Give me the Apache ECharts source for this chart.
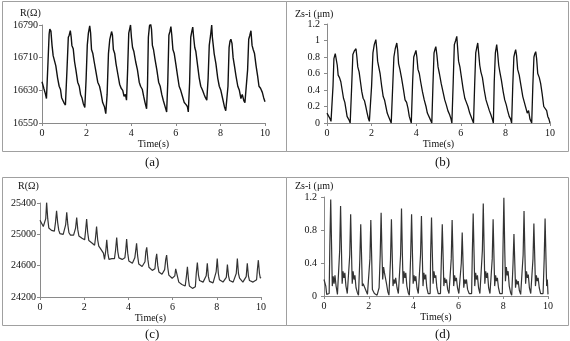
<!DOCTYPE html>
<html>
<head>
<meta charset="utf-8">
<script src="https://cdn.jsdelivr.net/npm/echarts@6/dist/echarts.min.js"></script>
<style>
  html, body { margin: 0; padding: 0; background: #fff; }
  #chart { width: 570px; height: 341px; }
</style>
</head>
<body>
<div id="chart"></div>
<script>
// tick values
const timeRange = [0, 10, 2]
const ticksA = [16550, 16630, 16710, 16790]
const ticksB = [0, 0.2, 0.4, 0.6, 0.8, 1, 1.2]
const ticksC = [24200, 24600, 25000, 25400]
const ticksD = [0, 0.4, 0.8, 1.2]

const panelLabels = ['(a)', '(b)', '(c)', '(d)']
const yNames = ['R(Ω)', 'Zs-i (μm)', 'R(Ω)', 'Zs-i (μm)']

// (a) resistance, slow pulse
const seriesA = [
  [0, 16651], [0.08, 16635], [0.15, 16622], [0.2, 16610], [0.27, 16700], [0.32, 16768], [0.35, 16780], [0.4, 16775], [0.45, 16740], [0.5, 16715], [0.55, 16712], [0.62, 16690], [0.7, 16660], [0.77, 16640], [0.83, 16632], [0.88, 16612], [0.93, 16615], [0.98, 16600], [1.05, 16594],
  [1.12, 16680], [1.18, 16760], [1.22, 16765], [1.27, 16776], [1.31, 16760], [1.34, 16740], [1.4, 16732], [1.46, 16700], [1.52, 16680], [1.6, 16650], [1.67, 16640], [1.73, 16620], [1.79, 16612], [1.85, 16598], [1.92, 16588],
  [1.98, 16660], [2.03, 16740], [2.08, 16770], [2.14, 16788], [2.18, 16770], [2.22, 16730], [2.28, 16720], [2.34, 16700], [2.42, 16675], [2.5, 16650], [2.58, 16640], [2.64, 16625], [2.72, 16600], [2.8, 16590], [2.86, 16573],
  [2.92, 16620], [2.98, 16720], [3.04, 16755], [3.12, 16774], [3.16, 16765], [3.2, 16730], [3.26, 16720], [3.32, 16695], [3.4, 16670], [3.48, 16645], [3.55, 16635], [3.62, 16630], [3.68, 16615], [3.74, 16620], [3.79, 16606],
  [3.84, 16680], [3.89, 16770], [3.93, 16780], [3.97, 16790], [4.01, 16760], [4.06, 16735], [4.12, 16725], [4.2, 16700], [4.28, 16680], [4.36, 16650], [4.42, 16640], [4.5, 16632], [4.56, 16615], [4.62, 16600], [4.69, 16585],
  [4.73, 16640], [4.77, 16760], [4.82, 16788], [4.87, 16793], [4.91, 16780], [4.95, 16740], [5.0, 16730], [5.07, 16705], [5.15, 16680], [5.23, 16650], [5.3, 16640], [5.37, 16620], [5.44, 16605], [5.52, 16590], [5.59, 16577],
  [5.64, 16650], [5.69, 16765], [5.74, 16775], [5.78, 16786], [5.82, 16765], [5.87, 16730], [5.93, 16720], [6.0, 16695], [6.08, 16665], [6.15, 16640], [6.22, 16630], [6.3, 16615], [6.38, 16600], [6.46, 16595], [6.52, 16590], [6.56, 16577],
  [6.62, 16650], [6.67, 16760], [6.72, 16775], [6.76, 16785], [6.8, 16760], [6.85, 16735], [6.9, 16725], [6.98, 16690], [7.05, 16660], [7.12, 16640], [7.2, 16630], [7.27, 16620], [7.33, 16612], [7.39, 16606],
  [7.45, 16660], [7.5, 16740], [7.56, 16765], [7.61, 16790], [7.64, 16760], [7.68, 16740], [7.72, 16720], [7.8, 16695], [7.88, 16660], [7.95, 16640], [8.02, 16630], [8.1, 16610], [8.18, 16590], [8.24, 16580], [8.29, 16577],
  [8.34, 16640], [8.39, 16735], [8.43, 16750], [8.47, 16755], [8.52, 16745], [8.57, 16710], [8.63, 16690], [8.7, 16665], [8.78, 16640], [8.85, 16630], [8.92, 16610], [8.98, 16620], [9.05, 16605], [9.1, 16600], [9.16, 16598],
  [9.22, 16680], [9.27, 16755], [9.32, 16765], [9.37, 16776], [9.42, 16740], [9.47, 16730], [9.53, 16720], [9.6, 16690], [9.67, 16665], [9.73, 16640], [9.8, 16635], [9.88, 16625], [9.94, 16612], [10, 16602]
]

// (b) displacement, slow pulse
const seriesB = [
  [0, 0.12], [0.06, 0.09], [0.12, 0.06], [0.18, 0.02], [0.22, 0], [0.27, 0.45], [0.31, 0.78], [0.37, 0.84], [0.42, 0.82], [0.46, 0.7], [0.5, 0.58], [0.56, 0.55], [0.62, 0.5], [0.68, 0.4], [0.74, 0.3], [0.8, 0.25], [0.86, 0.15], [0.9, 0.08], [0.95, 0.1], [1.0, 0.03], [1.04, 0],
  [1.1, 0.4], [1.16, 0.83], [1.22, 0.87], [1.3, 0.9], [1.34, 0.8], [1.38, 0.68], [1.44, 0.62], [1.5, 0.5], [1.56, 0.38], [1.62, 0.3], [1.68, 0.27], [1.74, 0.2], [1.8, 0.12], [1.86, 0.05], [1.9, 0.02], [1.94, 0],
  [2.0, 0.45], [2.06, 0.85], [2.12, 0.95], [2.19, 1.01], [2.23, 0.9], [2.27, 0.75], [2.32, 0.68], [2.38, 0.6], [2.45, 0.45], [2.52, 0.32], [2.58, 0.28], [2.64, 0.2], [2.7, 0.12], [2.76, 0.08], [2.82, 0.04], [2.88, 0],
  [2.94, 0.4], [3.0, 0.8], [3.06, 0.9], [3.13, 0.97], [3.17, 0.88], [3.21, 0.72], [3.27, 0.65], [3.34, 0.55], [3.42, 0.42], [3.5, 0.28], [3.57, 0.25], [3.63, 0.18], [3.69, 0.08], [3.74, 0.1], [3.78, 0],
  [3.84, 0.5], [3.89, 0.8], [3.94, 0.84], [3.99, 0.88], [4.03, 0.8], [4.08, 0.65], [4.14, 0.6], [4.2, 0.5], [4.28, 0.38], [4.36, 0.28], [4.44, 0.2], [4.5, 0.12], [4.56, 0.1], [4.62, 0.05], [4.7, 0],
  [4.75, 0.45], [4.8, 0.85], [4.85, 0.9], [4.88, 0.925], [4.93, 0.82], [4.98, 0.68], [5.04, 0.6], [5.12, 0.48], [5.2, 0.38], [5.28, 0.28], [5.35, 0.22], [5.42, 0.15], [5.5, 0.1], [5.56, 0.05], [5.6, 0],
  [5.66, 0.5], [5.71, 0.95], [5.77, 1.0], [5.82, 1.05], [5.86, 0.9], [5.9, 0.75], [5.96, 0.68], [6.03, 0.55], [6.1, 0.42], [6.18, 0.3], [6.25, 0.25], [6.32, 0.2], [6.4, 0.12], [6.46, 0.08], [6.52, 0.06], [6.57, 0],
  [6.62, 0.45], [6.67, 0.85], [6.72, 0.92], [6.76, 0.97], [6.8, 0.85], [6.85, 0.7], [6.9, 0.62], [6.97, 0.55], [7.05, 0.4], [7.13, 0.28], [7.2, 0.22], [7.28, 0.15], [7.35, 0.1], [7.41, 0.05], [7.46, 0],
  [7.5, 0.5], [7.55, 0.85], [7.61, 0.95], [7.65, 0.85], [7.7, 0.7], [7.75, 0.62], [7.82, 0.52], [7.9, 0.38], [7.97, 0.28], [8.04, 0.22], [8.1, 0.15], [8.17, 0.08], [8.23, 0.05], [8.28, 0],
  [8.33, 0.45], [8.38, 0.8], [8.42, 0.85], [8.46, 0.89], [8.5, 0.82], [8.55, 0.65], [8.62, 0.58], [8.7, 0.45], [8.78, 0.32], [8.85, 0.25], [8.92, 0.18], [8.98, 0.12], [9.04, 0.15], [9.1, 0.05], [9.18, 0],
  [9.23, 0.45], [9.28, 0.8], [9.32, 0.84], [9.36, 0.865], [9.4, 0.78], [9.45, 0.6], [9.52, 0.55], [9.58, 0.48], [9.65, 0.35], [9.72, 0.2], [9.78, 0.18], [9.85, 0.15], [9.9, 0.08], [9.95, 0.05], [10, 0]
]

// (c) resistance, fast pulse with drift
const seriesC = [
  [0, 25180], [0.08, 25160], [0.15, 25100], [0.21, 25080], [0.26, 25200], [0.30, 25410], [0.35, 25200], [0.4, 25080], [0.45, 25070], [0.52, 25050], [0.6, 25060], [0.65, 25040], [0.7, 25150], [0.75, 25300], [0.8, 25150], [0.85, 25050], [0.9, 25010], [0.98, 25020], [1.05, 25000], [1.11, 25010],
  [1.16, 25120], [1.21, 25280], [1.26, 25120], [1.31, 25020], [1.38, 24990], [1.45, 24980], [1.52, 24990], [1.57, 24970], [1.61, 25080], [1.66, 25215], [1.71, 25060], [1.76, 24980], [1.83, 24960], [1.9, 24950], [1.97, 24940], [2.02, 24930],
  [2.06, 25040], [2.11, 25195], [2.16, 25020], [2.21, 24920], [2.28, 24900], [2.35, 24890], [2.42, 24870], [2.47, 24860], [2.51, 24950], [2.56, 25100], [2.61, 24930], [2.66, 24850], [2.73, 24820], [2.8, 24800], [2.87, 24760], [2.92, 24680],
  [2.95, 24700], [2.98, 24800], [3.02, 24930], [3.07, 24760], [3.12, 24680], [3.18, 24700], [3.25, 24690], [3.32, 24700], [3.37, 24690], [3.42, 24800], [3.47, 24960], [3.52, 24780], [3.57, 24700], [3.64, 24690], [3.72, 24680], [3.8, 24660],
  [3.84, 24700], [3.88, 24800], [3.92, 24940], [3.97, 24760], [4.02, 24660], [4.1, 24640], [4.18, 24630], [4.25, 24620], [4.29, 24700], [4.33, 24790], [4.37, 24885], [4.42, 24720], [4.47, 24620], [4.55, 24600], [4.62, 24590], [4.7, 24570],
  [4.75, 24650], [4.79, 24780], [4.83, 24835], [4.88, 24680], [4.93, 24580], [5.0, 24560], [5.08, 24540], [5.15, 24530], [5.2, 24560], [5.24, 24680], [5.28, 24750], [5.33, 24600], [5.38, 24520], [5.45, 24500], [5.52, 24490], [5.6, 24480],
  [5.64, 24550], [5.69, 24680], [5.73, 24735], [5.78, 24580], [5.83, 24480], [5.9, 24460], [5.98, 24440], [6.05, 24430], [6.1, 24470], [6.14, 24560], [6.18, 24585], [6.23, 24450], [6.28, 24390], [6.35, 24370], [6.42, 24360], [6.5, 24350], [6.57, 24340],
  [6.62, 24450], [6.67, 24585], [6.72, 24420], [6.76, 24340], [6.83, 24320], [6.9, 24310], [6.97, 24320], [7.03, 24330], [7.07, 24500], [7.12, 24640], [7.17, 24480], [7.22, 24410], [7.3, 24400], [7.38, 24390], [7.46, 24380],
  [7.52, 24470], [7.57, 24630], [7.62, 24460], [7.67, 24400], [7.75, 24390], [7.83, 24380], [7.9, 24390], [7.97, 24520], [8.02, 24690], [8.07, 24500], [8.12, 24420], [8.2, 24400], [8.28, 24390], [8.36, 24380],
  [8.43, 24450], [8.48, 24615], [8.53, 24470], [8.58, 24410], [8.66, 24400], [8.74, 24390], [8.82, 24380], [8.88, 24500], [8.93, 24690], [8.98, 24500], [9.03, 24440], [9.1, 24420], [9.18, 24390], [9.26, 24380],
  [9.33, 24460], [9.38, 24630], [9.43, 24470], [9.48, 24410], [9.56, 24400], [9.64, 24390], [9.72, 24380], [9.8, 24420], [9.84, 24560], [9.88, 24670], [9.93, 24500], [9.97, 24440], [10, 24450]
]

// (d) displacement, fast pulse
const seriesD = [
  [0, 0.2], [0.04, 0.21], [0.08, 0.12], [0.12, 0.02], [0.18, 0.01], [0.23, 0.03], [0.26, 0.6], [0.3, 1.17], [0.34, 0.58], [0.37, 0.12], [0.41, 0.24], [0.45, 0.15], [0.49, 0.25], [0.54, 0.12], [0.6, 0.02], [0.64, 0.01], [0.67, 0.03],
  [0.7, 0.55], [0.74, 1.09], [0.78, 0.55], [0.81, 0.15], [0.85, 0.3], [0.89, 0.22], [0.93, 0.28], [0.98, 0.12], [1.04, 0.03], [1.09, 0.01], [1.12, 0.03],
  [1.15, 0.5], [1.19, 0.99], [1.23, 0.5], [1.26, 0.15], [1.3, 0.3], [1.34, 0.2], [1.38, 0.25], [1.43, 0.1], [1.49, 0.04], [1.54, 0.01], [1.57, 0.03],
  [1.6, 0.45], [1.64, 0.87], [1.68, 0.45], [1.71, 0.12], [1.75, 0.15], [1.79, 0.12], [1.83, 0.14], [1.88, 0.06], [1.94, 0.02], [1.99, 0.01], [2.02, 0.03],
  [2.05, 0.45], [2.09, 0.92], [2.13, 0.45], [2.16, 0.08], [2.2, 0.06], [2.25, 0.03], [2.31, 0.02], [2.37, 0.01], [2.42, 0.02], [2.46, 0.1],
  [2.51, 0.5], [2.55, 1.01], [2.59, 0.5], [2.62, 0.2], [2.66, 0.35], [2.7, 0.28], [2.74, 0.3], [2.79, 0.15], [2.85, 0.05], [2.9, 0.01], [2.94, 0.03],
  [2.97, 0.45], [3.01, 0.93], [3.05, 0.45], [3.08, 0.12], [3.12, 0.2], [3.16, 0.15], [3.2, 0.22], [3.26, 0.1], [3.32, 0.03], [3.37, 0.01], [3.4, 0.03],
  [3.42, 0.5], [3.46, 1.06], [3.5, 0.5], [3.53, 0.15], [3.57, 0.3], [3.61, 0.22], [3.65, 0.28], [3.7, 0.12], [3.76, 0.04], [3.81, 0.01], [3.85, 0.03],
  [3.87, 0.5], [3.91, 0.99], [3.95, 0.5], [3.98, 0.15], [4.02, 0.25], [4.06, 0.18], [4.1, 0.24], [4.15, 0.1], [4.21, 0.03], [4.26, 0.01], [4.29, 0.03],
  [4.31, 0.5], [4.35, 0.97], [4.39, 0.48], [4.42, 0.12], [4.46, 0.28], [4.5, 0.2], [4.54, 0.26], [4.59, 0.1], [4.65, 0.03], [4.7, 0.01], [4.74, 0.03],
  [4.76, 0.5], [4.8, 0.95], [4.84, 0.48], [4.87, 0.15], [4.91, 0.3], [4.95, 0.22], [4.99, 0.25], [5.04, 0.1], [5.1, 0.03], [5.16, 0.01], [5.2, 0.03],
  [5.24, 0.45], [5.28, 0.87], [5.32, 0.45], [5.35, 0.12], [5.39, 0.22], [5.43, 0.16], [5.47, 0.2], [5.52, 0.08], [5.58, 0.03], [5.63, 0.01], [5.66, 0.03],
  [5.68, 0.45], [5.72, 0.92], [5.76, 0.45], [5.79, 0.12], [5.83, 0.25], [5.87, 0.18], [5.91, 0.22], [5.96, 0.1], [6.02, 0.03], [6.07, 0.01], [6.1, 0.03],
  [6.13, 0.4], [6.17, 0.77], [6.21, 0.38], [6.24, 0.1], [6.28, 0.2], [6.32, 0.15], [6.36, 0.2], [6.41, 0.08], [6.48, 0.03], [6.55, 0.01], [6.59, 0.03],
  [6.62, 0.5], [6.66, 1.0], [6.7, 0.5], [6.73, 0.12], [6.77, 0.28], [6.81, 0.2], [6.85, 0.25], [6.9, 0.1], [6.96, 0.03], [7.01, 0.01], [7.04, 0.03],
  [7.07, 0.55], [7.11, 1.12], [7.15, 0.55], [7.18, 0.15], [7.22, 0.3], [7.26, 0.22], [7.3, 0.28], [7.35, 0.1], [7.41, 0.03], [7.46, 0.01], [7.49, 0.03],
  [7.51, 0.45], [7.55, 0.93], [7.59, 0.45], [7.62, 0.12], [7.66, 0.25], [7.7, 0.18], [7.74, 0.22], [7.79, 0.1], [7.85, 0.03], [7.92, 0.01], [7.96, 0.03],
  [7.99, 0.55], [8.03, 1.19], [8.07, 0.55], [8.1, 0.18], [8.14, 0.35], [8.18, 0.25], [8.22, 0.3], [8.27, 0.12], [8.33, 0.04], [8.38, 0.01], [8.41, 0.03],
  [8.44, 0.4], [8.48, 0.75], [8.52, 0.38], [8.55, 0.1], [8.59, 0.2], [8.63, 0.14], [8.67, 0.18], [8.72, 0.07], [8.78, 0.02], [8.83, 0.01], [8.86, 0.03],
  [8.89, 0.5], [8.93, 1.03], [8.97, 0.5], [9.0, 0.15], [9.04, 0.3], [9.08, 0.22], [9.12, 0.26], [9.17, 0.1], [9.23, 0.03], [9.28, 0.01], [9.31, 0.03],
  [9.33, 0.45], [9.37, 0.88], [9.41, 0.45], [9.44, 0.12], [9.48, 0.25], [9.52, 0.18], [9.56, 0.22], [9.61, 0.1], [9.67, 0.03], [9.73, 0.01], [9.78, 0.03],
  [9.83, 0.45], [9.87, 0.94], [9.91, 0.45], [9.94, 0.12], [9.97, 0.2], [10, 0.02]
]

const FONT = 'Liberation Serif, Times New Roman, serif'
const AXIS = '#8a8a8a'
const FRAME = '#a0a0a0'

// grid boxes in pixels, one per panel
const grids = [
  { left: 42, top: 25, width: 223, height: 98 },
  { left: 327, top: 24, width: 223, height: 99 },
  { left: 40, top: 203, width: 221, height: 94 },
  { left: 324, top: 197, width: 224, height: 99 }
]
const yTicks = [ticksA, ticksB, ticksC, ticksD]
const yLabelMargin = [4, 7, 4, 7]
const allSeries = [seriesA, seriesB, seriesC, seriesD]
const lineColors = ['#111', '#111', '#333', '#333']
const lineWidths = [1.4, 1.3, 1.2, 1.2]

const chart = echarts.init(document.getElementById('chart'))

chart.setOption({
  backgroundColor: '#fff',
  animation: false,
  grid: grids,
  xAxis: grids.map((g, i) => ({
    type: 'value',
    gridIndex: i,
    min: timeRange[0],
    max: timeRange[1],
    interval: timeRange[2],
    name: 'Time(s)',
    nameLocation: 'middle',
    nameGap: 11,
    nameTextStyle: { fontFamily: FONT, fontSize: 10, color: '#111' },
    axisLine: { lineStyle: { color: AXIS, width: 1 } },
    axisTick: { show: true, length: 3, lineStyle: { color: AXIS } },
    axisLabel: { fontFamily: FONT, fontSize: 10, color: '#111', margin: 5 },
    splitLine: { show: false }
  })),
  yAxis: yTicks.map((ticks, i) => ({
    type: 'value',
    gridIndex: i,
    min: ticks[0],
    max: ticks[ticks.length - 1],
    interval: ticks[1] - ticks[0],
    axisLine: { show: true, lineStyle: { color: AXIS, width: 1 } },
    axisTick: { show: true, length: 3, lineStyle: { color: AXIS } },
    axisLabel: {
      fontFamily: FONT, fontSize: 10, color: '#111', margin: yLabelMargin[i],
      formatter: (v) => String(Math.round(v * 10) / 10)
    },
    splitLine: { show: false }
  })),
  series: allSeries.map((data, i) => ({
    type: 'line',
    xAxisIndex: i,
    yAxisIndex: i,
    data: data,
    showSymbol: false,
    symbol: 'none',
    lineStyle: { color: lineColors[i], width: lineWidths[i] },
    silent: true
  })),
  graphic: [
    // panel frames
    { type: 'rect', shape: { x: 2.5, y: 1.5, width: 284, height: 150 }, style: { fill: 'none', stroke: FRAME, lineWidth: 1 } },
    { type: 'rect', shape: { x: 286.5, y: 1.5, width: 282, height: 150 }, style: { fill: 'none', stroke: FRAME, lineWidth: 1 } },
    { type: 'rect', shape: { x: 2.5, y: 177.5, width: 284, height: 148 }, style: { fill: 'none', stroke: FRAME, lineWidth: 1 } },
    { type: 'rect', shape: { x: 286.5, y: 177.5, width: 282, height: 148 }, style: { fill: 'none', stroke: FRAME, lineWidth: 1 } },
    // y axis names
    { type: 'text', left: 20, top: 8, style: { text: yNames[0], font: '10px ' + FONT, fill: '#111' } },
    { type: 'text', left: 295, top: 9, style: { text: yNames[1], font: '10px ' + FONT, fill: '#111' } },
    { type: 'text', left: 18, top: 181, style: { text: yNames[2], font: '10px ' + FONT, fill: '#111' } },
    { type: 'text', left: 295, top: 181, style: { text: yNames[3], font: '10px ' + FONT, fill: '#111' } },
    // panel captions
    { type: 'text', left: 145, top: 156, style: { text: panelLabels[0], font: '13px ' + FONT, fill: '#111' } },
    { type: 'text', left: 435, top: 156, style: { text: panelLabels[1], font: '13px ' + FONT, fill: '#111' } },
    { type: 'text', left: 145, top: 328, style: { text: panelLabels[2], font: '13px ' + FONT, fill: '#111' } },
    { type: 'text', left: 435, top: 328, style: { text: panelLabels[3], font: '13px ' + FONT, fill: '#111' } }
  ]
})
</script>
</body>
</html>
